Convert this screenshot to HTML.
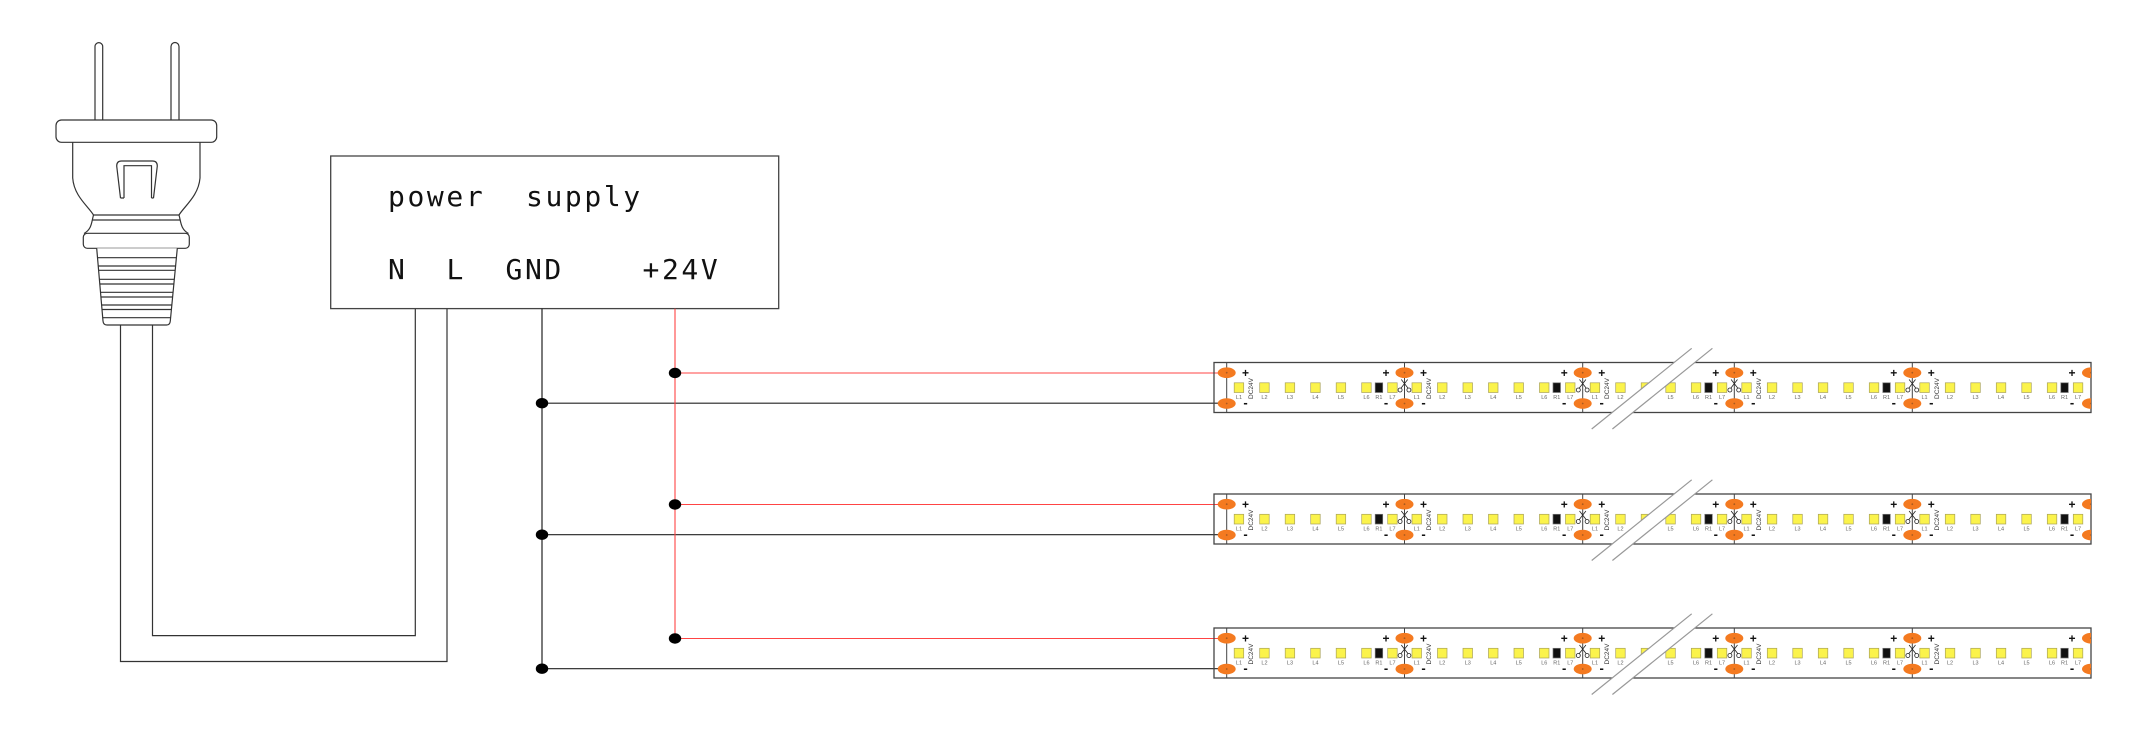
<!DOCTYPE html>
<html><head><meta charset="utf-8"><style>
html,body{margin:0;padding:0;background:#fff;}
svg{display:block;}
.lb{font-family:"Liberation Sans",sans-serif;font-size:5.5px;fill:#666;text-anchor:middle;}
.dc{font-family:"Liberation Sans",sans-serif;font-size:6.5px;fill:#333;text-anchor:middle;dominant-baseline:central;}
.pm{font-family:"Liberation Sans",sans-serif;font-size:12px;font-weight:bold;fill:#111;text-anchor:middle;}
.mn{font-family:"Liberation Sans",sans-serif;font-size:13px;font-weight:bold;fill:#111;text-anchor:middle;}
.big{font-family:"DejaVu Sans Mono","Liberation Mono",monospace;font-size:28px;letter-spacing:2.6px;fill:#111;}
</style></head><body>
<svg width="2152" height="754" viewBox="0 0 2152 754" xmlns="http://www.w3.org/2000/svg">
<defs>
<clipPath id="clipS"><rect x="1214" y="0" width="877" height="50"/></clipPath>
<g id="pad"><ellipse cx="0" cy="0" rx="9" ry="5.3" fill="#f47a20"/><circle cx="0" cy="0" r="0.9" fill="#a85a20"/></g>
<g id="scis" stroke="#222" stroke-width="0.8" fill="none"><path d="M-3.2,17 L3.4,25.5 M3.2,17 L-3.4,25.5"/><circle cx="-4.4" cy="27.5" r="2"/><circle cx="4.4" cy="27.5" r="2"/></g>
<g id="leds"><g fill="#fbf34b" stroke="#aaa35a" stroke-width="0.7"><rect x="7.5" y="20.3" width="9.5" height="9.7"/><rect x="33" y="20.3" width="9.5" height="9.7"/><rect x="58.5" y="20.3" width="9.5" height="9.7"/><rect x="84" y="20.3" width="9.5" height="9.7"/><rect x="109.5" y="20.3" width="9.5" height="9.7"/><rect x="135" y="20.3" width="9.5" height="9.7"/><rect x="161" y="20.3" width="9.5" height="9.7"/></g><rect x="148.5" y="20.3" width="7.5" height="9.7" fill="#111" stroke="#777" stroke-width="0.7"/></g>
<g id="ledsA"><g fill="#fbf34b" stroke="#aaa35a" stroke-width="0.7"><rect x="7.5" y="20.3" width="9.5" height="9.7"/><rect x="33" y="20.3" width="9.5" height="9.7"/><rect x="58.5" y="20.3" width="9.5" height="9.7"/></g></g>
<g id="ledsB"><g fill="#fbf34b" stroke="#aaa35a" stroke-width="0.7"><rect x="109.5" y="20.3" width="9.5" height="9.7"/><rect x="135" y="20.3" width="9.5" height="9.7"/><rect x="161" y="20.3" width="9.5" height="9.7"/></g><rect x="148.5" y="20.3" width="7.5" height="9.7" fill="#111" stroke="#777" stroke-width="0.7"/></g>
</defs>
<rect width="2152" height="754" fill="#fff"/>

<!-- plug -->
<g fill="#fff" stroke="#333" stroke-width="1.2">
<path d="M95,120 V46.5 A3.85,3.85 0 0 1 102.7,46.5 V120"/>
<path d="M171,120 V46.5 A4,4 0 0 1 179,46.5 V120"/>
<path d="M72.7,142.3 V178 C74,196 88,206 93.5,215 L179,215 C184.5,206 198.5,196 200,178 V142.3"/>
<rect x="56" y="120" width="160.7" height="22.3" rx="5.5"/>
<path d="M93.5,215 C91.5,222 92,229 84,233.5 M179,215 C181,222 180.5,229 188.5,233.5" fill="none"/>
<path d="M92.5,220 H180" fill="none"/>
<rect x="83.3" y="233.3" width="106" height="15" rx="4"/>
<path d="M96.7,248.3 L103,321 Q103.3,325 107,325 H166.5 Q170,325 170.3,321 L177.3,248.3"/>
<path fill="none" d="M97.5,257.7H176.5 M98.2,266H175.7 M98.5,270.3H175.3 M99.3,279.3H174.5 M99.7,284H174.1 M100.3,292.3H173.3 M100.7,297H172.9 M101.4,305H172.1 M101.7,309.5H171.7 M102.4,317.7H171"/>
<path fill="none" d="M120.5,198 L116.7,166 Q116.7,161 121.5,161 H152.5 Q157.3,161 157.3,166 L153.5,198 M124,198 V165.7 H151.5 V198 M120.5,198 H124 M151.5,198 H153.5"/>
</g>
<!-- cable -->
<path d="M120.5,325 V661.5 H447 V308.6 M152.5,325 V635.6 H415.3 V308.6" fill="none" stroke="#333" stroke-width="1.2"/>

<!-- power supply box -->
<rect x="330.7" y="156" width="448" height="152.6" fill="none" stroke="#444" stroke-width="1.3"/>
<text class="big" x="388" y="206">power</text>
<text class="big" x="526" y="206">supply</text>
<text class="big" x="388" y="279">N</text>
<text class="big" x="446.5" y="279">L</text>
<text class="big" x="505.5" y="279">GND</text>
<text class="big" x="642.5" y="279">+24V</text>

<!-- connectors -->
<path d="M542,308.6V668.7 M542,403.2H1226.7 M542,534.7H1226.7 M542,668.7H1226.7" fill="none" stroke="#222" stroke-width="1.2"/>
<path d="M675,308.6V638.5 M675,373H1226.7 M675,504.5H1226.7 M675,638.5H1226.7" fill="none" stroke="#f44" stroke-width="1.1"/>
<g fill="#000">
<ellipse cx="675" cy="373" rx="6.2" ry="5.2"/><ellipse cx="675" cy="504.5" rx="6.2" ry="5.2"/><ellipse cx="675" cy="638.5" rx="6.2" ry="5.2"/>
<ellipse cx="542" cy="403.2" rx="6.2" ry="5.2"/><ellipse cx="542" cy="534.7" rx="6.2" ry="5.2"/><ellipse cx="542" cy="668.7" rx="6.2" ry="5.2"/>
</g>

<!-- STRIP 1 -->
<g transform="translate(0,362.5)">
<rect x="1214" y="0" width="877" height="50" fill="none" stroke="#444" stroke-width="1.3"/>
<path d="M1226.7,0V50M1404.5,0V50M1582.7,0V50M1734.3,0V50M1912.3,0V50" stroke="#444" stroke-width="1"/>
<g clip-path="url(#clipS)">
<use href="#pad" x="1226.7" y="10.2"/><use href="#pad" x="1226.7" y="41"/>
<use href="#pad" x="1404.5" y="10.2"/><use href="#pad" x="1404.5" y="41"/>
<use href="#pad" x="1582.7" y="10.2"/><use href="#pad" x="1582.7" y="41"/>
<use href="#pad" x="1734.3" y="10.2"/><use href="#pad" x="1734.3" y="41"/>
<use href="#pad" x="1912.3" y="10.2"/><use href="#pad" x="1912.3" y="41"/>
<use href="#pad" x="2091" y="10.2"/><use href="#pad" x="2091" y="41"/>
</g>
<text class="pm" x="1245.5" y="14.4">+</text><text class="pm" x="1386" y="14.4">+</text><text class="pm" x="1423.5" y="14.4">+</text><text class="pm" x="1564.2" y="14.4">+</text><text class="pm" x="1601.7" y="14.4">+</text><text class="pm" x="1715.8" y="14.4">+</text><text class="pm" x="1753.3" y="14.4">+</text><text class="pm" x="1893.8" y="14.4">+</text><text class="pm" x="1931.3" y="14.4">+</text><text class="pm" x="2072" y="14.4">+</text>
<text class="mn" x="1245.5" y="44.6">-</text><text class="mn" x="1386" y="44.6">-</text><text class="mn" x="1423.5" y="44.6">-</text><text class="mn" x="1564.2" y="44.6">-</text><text class="mn" x="1601.7" y="44.6">-</text><text class="mn" x="1715.8" y="44.6">-</text><text class="mn" x="1753.3" y="44.6">-</text><text class="mn" x="1893.8" y="44.6">-</text><text class="mn" x="1931.3" y="44.6">-</text><text class="mn" x="2072" y="44.6">-</text>
<g transform="translate(1226.7,0)"><use href="#leds"/><text class="lb" x="12.25" y="36.5">L1</text><text class="lb" x="37.75" y="36.5">L2</text><text class="lb" x="63.25" y="36.5">L3</text><text class="lb" x="88.75" y="36.5">L4</text><text class="lb" x="114.25" y="36.5">L5</text><text class="lb" x="139.75" y="36.5">L6</text><text class="lb" x="152.25" y="36.5">R1</text><text class="lb" x="165.75" y="36.5">L7</text><text class="dc" transform="translate(25,26) rotate(-90)">DC24V</text></g>
<g transform="translate(1404.5,0)"><use href="#leds"/><text class="lb" x="12.25" y="36.5">L1</text><text class="lb" x="37.75" y="36.5">L2</text><text class="lb" x="63.25" y="36.5">L3</text><text class="lb" x="88.75" y="36.5">L4</text><text class="lb" x="114.25" y="36.5">L5</text><text class="lb" x="139.75" y="36.5">L6</text><text class="lb" x="152.25" y="36.5">R1</text><text class="lb" x="165.75" y="36.5">L7</text><text class="dc" transform="translate(25,26) rotate(-90)">DC24V</text></g>
<g transform="translate(1582.7,0)"><use href="#ledsA"/><text class="lb" x="12.25" y="36.5">L1</text><text class="lb" x="37.75" y="36.5">L2</text><text class="lb" x="63.25" y="36.5">L3</text><text class="dc" transform="translate(25,26) rotate(-90)">DC24V</text></g>
<g transform="translate(1556.3,0)"><use href="#ledsB"/><text class="lb" x="114.25" y="36.5">L5</text><text class="lb" x="139.75" y="36.5">L6</text><text class="lb" x="152.25" y="36.5">R1</text><text class="lb" x="165.75" y="36.5">L7</text></g>
<g transform="translate(1734.3,0)"><use href="#leds"/><text class="lb" x="12.25" y="36.5">L1</text><text class="lb" x="37.75" y="36.5">L2</text><text class="lb" x="63.25" y="36.5">L3</text><text class="lb" x="88.75" y="36.5">L4</text><text class="lb" x="114.25" y="36.5">L5</text><text class="lb" x="139.75" y="36.5">L6</text><text class="lb" x="152.25" y="36.5">R1</text><text class="lb" x="165.75" y="36.5">L7</text><text class="dc" transform="translate(25,26) rotate(-90)">DC24V</text></g>
<g transform="translate(1912.3,0)"><use href="#leds"/><text class="lb" x="12.25" y="36.5">L1</text><text class="lb" x="37.75" y="36.5">L2</text><text class="lb" x="63.25" y="36.5">L3</text><text class="lb" x="88.75" y="36.5">L4</text><text class="lb" x="114.25" y="36.5">L5</text><text class="lb" x="139.75" y="36.5">L6</text><text class="lb" x="152.25" y="36.5">R1</text><text class="lb" x="165.75" y="36.5">L7</text><text class="dc" transform="translate(25,26) rotate(-90)">DC24V</text></g>
<use href="#scis" x="1404.5" y="0"/><use href="#scis" x="1582.7" y="0"/><use href="#scis" x="1734.3" y="0"/><use href="#scis" x="1912.3" y="0"/>
<polygon points="1591.7,66.5 1691.7,-14.2 1712.4,-14.2 1612.4,66.5" fill="#fff"/>
<path d="M1591.7,66.5 L1691.7,-14.2 M1612.4,66.5 L1712.4,-14.2" stroke="#999" stroke-width="1.2"/>
</g>

<!-- STRIP 2 -->
<g transform="translate(0,494)">
<rect x="1214" y="0" width="877" height="50" fill="none" stroke="#444" stroke-width="1.3"/>
<path d="M1226.7,0V50M1404.5,0V50M1582.7,0V50M1734.3,0V50M1912.3,0V50" stroke="#444" stroke-width="1"/>
<g clip-path="url(#clipS)">
<use href="#pad" x="1226.7" y="10.2"/><use href="#pad" x="1226.7" y="41"/>
<use href="#pad" x="1404.5" y="10.2"/><use href="#pad" x="1404.5" y="41"/>
<use href="#pad" x="1582.7" y="10.2"/><use href="#pad" x="1582.7" y="41"/>
<use href="#pad" x="1734.3" y="10.2"/><use href="#pad" x="1734.3" y="41"/>
<use href="#pad" x="1912.3" y="10.2"/><use href="#pad" x="1912.3" y="41"/>
<use href="#pad" x="2091" y="10.2"/><use href="#pad" x="2091" y="41"/>
</g>
<text class="pm" x="1245.5" y="14.4">+</text><text class="pm" x="1386" y="14.4">+</text><text class="pm" x="1423.5" y="14.4">+</text><text class="pm" x="1564.2" y="14.4">+</text><text class="pm" x="1601.7" y="14.4">+</text><text class="pm" x="1715.8" y="14.4">+</text><text class="pm" x="1753.3" y="14.4">+</text><text class="pm" x="1893.8" y="14.4">+</text><text class="pm" x="1931.3" y="14.4">+</text><text class="pm" x="2072" y="14.4">+</text>
<text class="mn" x="1245.5" y="44.6">-</text><text class="mn" x="1386" y="44.6">-</text><text class="mn" x="1423.5" y="44.6">-</text><text class="mn" x="1564.2" y="44.6">-</text><text class="mn" x="1601.7" y="44.6">-</text><text class="mn" x="1715.8" y="44.6">-</text><text class="mn" x="1753.3" y="44.6">-</text><text class="mn" x="1893.8" y="44.6">-</text><text class="mn" x="1931.3" y="44.6">-</text><text class="mn" x="2072" y="44.6">-</text>
<g transform="translate(1226.7,0)"><use href="#leds"/><text class="lb" x="12.25" y="36.5">L1</text><text class="lb" x="37.75" y="36.5">L2</text><text class="lb" x="63.25" y="36.5">L3</text><text class="lb" x="88.75" y="36.5">L4</text><text class="lb" x="114.25" y="36.5">L5</text><text class="lb" x="139.75" y="36.5">L6</text><text class="lb" x="152.25" y="36.5">R1</text><text class="lb" x="165.75" y="36.5">L7</text><text class="dc" transform="translate(25,26) rotate(-90)">DC24V</text></g>
<g transform="translate(1404.5,0)"><use href="#leds"/><text class="lb" x="12.25" y="36.5">L1</text><text class="lb" x="37.75" y="36.5">L2</text><text class="lb" x="63.25" y="36.5">L3</text><text class="lb" x="88.75" y="36.5">L4</text><text class="lb" x="114.25" y="36.5">L5</text><text class="lb" x="139.75" y="36.5">L6</text><text class="lb" x="152.25" y="36.5">R1</text><text class="lb" x="165.75" y="36.5">L7</text><text class="dc" transform="translate(25,26) rotate(-90)">DC24V</text></g>
<g transform="translate(1582.7,0)"><use href="#ledsA"/><text class="lb" x="12.25" y="36.5">L1</text><text class="lb" x="37.75" y="36.5">L2</text><text class="lb" x="63.25" y="36.5">L3</text><text class="dc" transform="translate(25,26) rotate(-90)">DC24V</text></g>
<g transform="translate(1556.3,0)"><use href="#ledsB"/><text class="lb" x="114.25" y="36.5">L5</text><text class="lb" x="139.75" y="36.5">L6</text><text class="lb" x="152.25" y="36.5">R1</text><text class="lb" x="165.75" y="36.5">L7</text></g>
<g transform="translate(1734.3,0)"><use href="#leds"/><text class="lb" x="12.25" y="36.5">L1</text><text class="lb" x="37.75" y="36.5">L2</text><text class="lb" x="63.25" y="36.5">L3</text><text class="lb" x="88.75" y="36.5">L4</text><text class="lb" x="114.25" y="36.5">L5</text><text class="lb" x="139.75" y="36.5">L6</text><text class="lb" x="152.25" y="36.5">R1</text><text class="lb" x="165.75" y="36.5">L7</text><text class="dc" transform="translate(25,26) rotate(-90)">DC24V</text></g>
<g transform="translate(1912.3,0)"><use href="#leds"/><text class="lb" x="12.25" y="36.5">L1</text><text class="lb" x="37.75" y="36.5">L2</text><text class="lb" x="63.25" y="36.5">L3</text><text class="lb" x="88.75" y="36.5">L4</text><text class="lb" x="114.25" y="36.5">L5</text><text class="lb" x="139.75" y="36.5">L6</text><text class="lb" x="152.25" y="36.5">R1</text><text class="lb" x="165.75" y="36.5">L7</text><text class="dc" transform="translate(25,26) rotate(-90)">DC24V</text></g>
<use href="#scis" x="1404.5" y="0"/><use href="#scis" x="1582.7" y="0"/><use href="#scis" x="1734.3" y="0"/><use href="#scis" x="1912.3" y="0"/>
<polygon points="1591.7,66.5 1691.7,-14.2 1712.4,-14.2 1612.4,66.5" fill="#fff"/>
<path d="M1591.7,66.5 L1691.7,-14.2 M1612.4,66.5 L1712.4,-14.2" stroke="#999" stroke-width="1.2"/>
</g>

<!-- STRIP 3 -->
<g transform="translate(0,628)">
<rect x="1214" y="0" width="877" height="50" fill="none" stroke="#444" stroke-width="1.3"/>
<path d="M1226.7,0V50M1404.5,0V50M1582.7,0V50M1734.3,0V50M1912.3,0V50" stroke="#444" stroke-width="1"/>
<g clip-path="url(#clipS)">
<use href="#pad" x="1226.7" y="10.2"/><use href="#pad" x="1226.7" y="41"/>
<use href="#pad" x="1404.5" y="10.2"/><use href="#pad" x="1404.5" y="41"/>
<use href="#pad" x="1582.7" y="10.2"/><use href="#pad" x="1582.7" y="41"/>
<use href="#pad" x="1734.3" y="10.2"/><use href="#pad" x="1734.3" y="41"/>
<use href="#pad" x="1912.3" y="10.2"/><use href="#pad" x="1912.3" y="41"/>
<use href="#pad" x="2091" y="10.2"/><use href="#pad" x="2091" y="41"/>
</g>
<text class="pm" x="1245.5" y="14.4">+</text><text class="pm" x="1386" y="14.4">+</text><text class="pm" x="1423.5" y="14.4">+</text><text class="pm" x="1564.2" y="14.4">+</text><text class="pm" x="1601.7" y="14.4">+</text><text class="pm" x="1715.8" y="14.4">+</text><text class="pm" x="1753.3" y="14.4">+</text><text class="pm" x="1893.8" y="14.4">+</text><text class="pm" x="1931.3" y="14.4">+</text><text class="pm" x="2072" y="14.4">+</text>
<text class="mn" x="1245.5" y="44.6">-</text><text class="mn" x="1386" y="44.6">-</text><text class="mn" x="1423.5" y="44.6">-</text><text class="mn" x="1564.2" y="44.6">-</text><text class="mn" x="1601.7" y="44.6">-</text><text class="mn" x="1715.8" y="44.6">-</text><text class="mn" x="1753.3" y="44.6">-</text><text class="mn" x="1893.8" y="44.6">-</text><text class="mn" x="1931.3" y="44.6">-</text><text class="mn" x="2072" y="44.6">-</text>
<g transform="translate(1226.7,0)"><use href="#leds"/><text class="lb" x="12.25" y="36.5">L1</text><text class="lb" x="37.75" y="36.5">L2</text><text class="lb" x="63.25" y="36.5">L3</text><text class="lb" x="88.75" y="36.5">L4</text><text class="lb" x="114.25" y="36.5">L5</text><text class="lb" x="139.75" y="36.5">L6</text><text class="lb" x="152.25" y="36.5">R1</text><text class="lb" x="165.75" y="36.5">L7</text><text class="dc" transform="translate(25,26) rotate(-90)">DC24V</text></g>
<g transform="translate(1404.5,0)"><use href="#leds"/><text class="lb" x="12.25" y="36.5">L1</text><text class="lb" x="37.75" y="36.5">L2</text><text class="lb" x="63.25" y="36.5">L3</text><text class="lb" x="88.75" y="36.5">L4</text><text class="lb" x="114.25" y="36.5">L5</text><text class="lb" x="139.75" y="36.5">L6</text><text class="lb" x="152.25" y="36.5">R1</text><text class="lb" x="165.75" y="36.5">L7</text><text class="dc" transform="translate(25,26) rotate(-90)">DC24V</text></g>
<g transform="translate(1582.7,0)"><use href="#ledsA"/><text class="lb" x="12.25" y="36.5">L1</text><text class="lb" x="37.75" y="36.5">L2</text><text class="lb" x="63.25" y="36.5">L3</text><text class="dc" transform="translate(25,26) rotate(-90)">DC24V</text></g>
<g transform="translate(1556.3,0)"><use href="#ledsB"/><text class="lb" x="114.25" y="36.5">L5</text><text class="lb" x="139.75" y="36.5">L6</text><text class="lb" x="152.25" y="36.5">R1</text><text class="lb" x="165.75" y="36.5">L7</text></g>
<g transform="translate(1734.3,0)"><use href="#leds"/><text class="lb" x="12.25" y="36.5">L1</text><text class="lb" x="37.75" y="36.5">L2</text><text class="lb" x="63.25" y="36.5">L3</text><text class="lb" x="88.75" y="36.5">L4</text><text class="lb" x="114.25" y="36.5">L5</text><text class="lb" x="139.75" y="36.5">L6</text><text class="lb" x="152.25" y="36.5">R1</text><text class="lb" x="165.75" y="36.5">L7</text><text class="dc" transform="translate(25,26) rotate(-90)">DC24V</text></g>
<g transform="translate(1912.3,0)"><use href="#leds"/><text class="lb" x="12.25" y="36.5">L1</text><text class="lb" x="37.75" y="36.5">L2</text><text class="lb" x="63.25" y="36.5">L3</text><text class="lb" x="88.75" y="36.5">L4</text><text class="lb" x="114.25" y="36.5">L5</text><text class="lb" x="139.75" y="36.5">L6</text><text class="lb" x="152.25" y="36.5">R1</text><text class="lb" x="165.75" y="36.5">L7</text><text class="dc" transform="translate(25,26) rotate(-90)">DC24V</text></g>
<use href="#scis" x="1404.5" y="0"/><use href="#scis" x="1582.7" y="0"/><use href="#scis" x="1734.3" y="0"/><use href="#scis" x="1912.3" y="0"/>
<polygon points="1591.7,66.5 1691.7,-14.2 1712.4,-14.2 1612.4,66.5" fill="#fff"/>
<path d="M1591.7,66.5 L1691.7,-14.2 M1612.4,66.5 L1712.4,-14.2" stroke="#999" stroke-width="1.2"/>
</g>
</svg>
</body></html>
